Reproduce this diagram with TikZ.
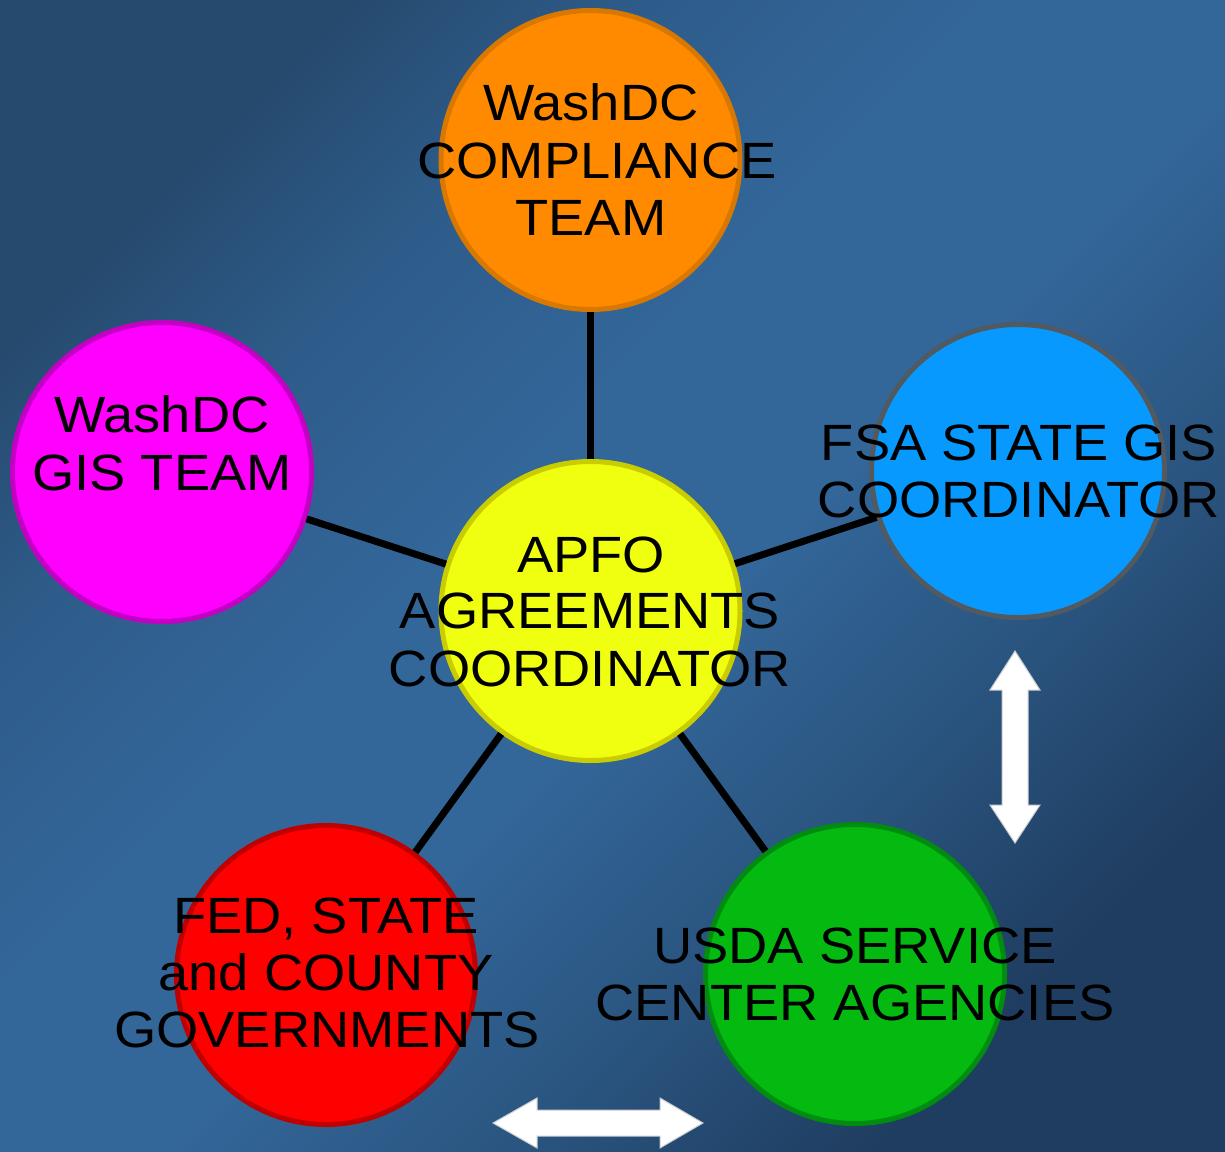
\documentclass[tikz,border=0pt]{standalone}
\usepackage{fontspec}
\setmainfont{Liberation Sans}[FakeStretch=1.065]
\usetikzlibrary{calc}
\definecolor{bgA}{HTML}{264A6E}
\definecolor{bgA2}{HTML}{2E5C8A}
\definecolor{bgM}{HTML}{336699}
\definecolor{bgB2}{HTML}{2A5580}
\definecolor{bgB}{HTML}{1F3D60}
\pgfdeclareverticalshading{bgshade}{100bp}{color(0bp)=(bgB); color(25bp)=(bgB); color(36bp)=(bgB2); color(46bp)=(bgM); color(56bp)=(bgM); color(66bp)=(bgA2); color(75bp)=(bgA); color(100bp)=(bgA)}
\definecolor{orangeF}{HTML}{FF8A00}
\definecolor{orangeD}{HTML}{D97800}
\definecolor{magF}{HTML}{FF00FF}
\definecolor{magD}{HTML}{C400C4}
\definecolor{yelF}{HTML}{F0FF10}
\definecolor{yelD}{HTML}{C8CC00}
\definecolor{bluF}{HTML}{0899FF}
\definecolor{bluD}{HTML}{505A60}
\definecolor{redF}{HTML}{FF0000}
\definecolor{redD}{HTML}{C00000}
\definecolor{grnF}{HTML}{04BA10}
\definecolor{grnD}{HTML}{008C10}
\definecolor{arrD}{HTML}{C8CCD0}
\tikzset{
  circ/.style={circle, line width=5pt, inner sep=0pt, minimum size=299pt},
  lbl/.style={inner sep=0pt, anchor=base, text=black, font=\fontsize{51}{57}\selectfont},
  conn/.style={line width=7pt, black},
  dblarrow/.style={fill=white, draw=arrD, line width=1pt, line join=miter}
}
\begin{document}
\begin{tikzpicture}[x=1pt, y=-1pt]
\useasboundingbox (0,0) rectangle (1225,1151);
\shade[shading=bgshade, shading angle=45] (0,0) rectangle (1225,1151);

% circles
\node[circ, fill=orangeF, draw=orangeD] (orange) at (590.5,160) {};
\node[circ, fill=magF, draw=magD] (magenta) at (162,472) {};
\node[circ, fill=yelF, draw=yelD] (yellow) at (590.5,611) {};
\node[circ, fill=bluF, draw=bluD, minimum size=293pt] (blue) at (1018,471) {};
\node[circ, fill=redF, draw=redD] (red) at (326,975) {};
\node[circ, fill=grnF, draw=grnD] (green) at (855,974) {};

% connectors
\draw[conn] (orange) -- (yellow);
\draw[conn] (magenta) -- (yellow);
\draw[conn] (blue) -- (yellow);
\draw[conn] (red) -- (yellow);
\draw[conn] (green) -- (yellow);

% double arrows
\draw[dblarrow] (1015,651) -- (1040,690) -- (1028,690) -- (1028,805) -- (1040,805)
  -- (1015,843) -- (990,805) -- (1002,805) -- (1002,690) -- (990,690) -- cycle;
\draw[dblarrow] (493,1123) -- (537,1098) -- (537,1110) -- (660,1110) -- (660,1098)
  -- (703,1123) -- (660,1148) -- (660,1136) -- (537,1136) -- (537,1148) -- cycle;

% labels
\node[lbl] (o1) at (591,120) {WashDC};
\node[lbl] (o2) at (597,178) {COMPLIANCE};
\node[lbl] (o3) at (591,235) {TEAM};

\node[lbl] (m1) at (162,432) {WashDC};
\node[lbl] (m2) at (162,490) {GIS TEAM};

\node[lbl] (y1) at (591,572) {APFO};
\node[lbl] (y2) at (590,628) {AGREEMENTS};
\node[lbl] (y3) at (590,686) {COORDINATOR};

\node[lbl] (b1) at (1019,460) {FSA STATE GIS};
\node[lbl] (b2) at (1019,517) {COORDINATOR};

\node[lbl] (r1) at (326,933) {FED, STATE};
\node[lbl] (r2) at (326,990) {and COUNTY};
\node[lbl] (r3) at (327,1047) {GOVERNMENTS};

\node[lbl] (g1) at (855,963) {USDA SERVICE};
\node[lbl] (g2) at (855,1020) {CENTER AGENCIES};
\end{tikzpicture}
\end{document}
